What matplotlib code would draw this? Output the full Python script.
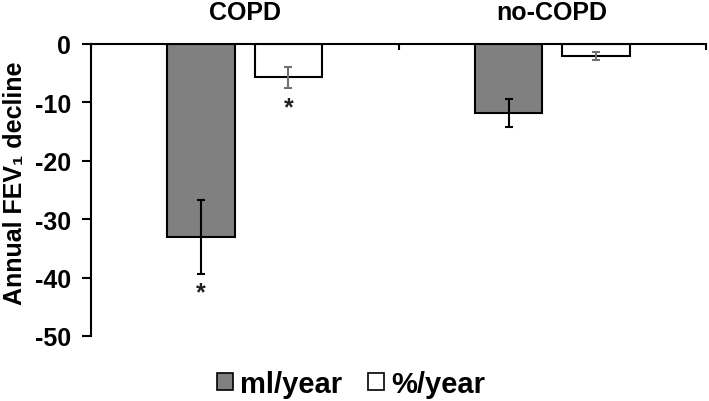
import numpy as np
import matplotlib.pyplot as plt
from matplotlib.patches import Patch

plt.rcParams['font.family'] = ['Liberation Sans', 'DejaVu Sans']
plt.rcParams['font.weight'] = 'bold'
plt.rcParams['axes.labelweight'] = 'bold'
plt.rcParams['axes.unicode_minus'] = False

# ===== data =====
groups = ['COPD', 'no-COPD']
ml_year = [-33.0, -11.8]
ml_err = [6.3, 2.4]
pct_year = [-5.7, -2.1]
pct_err = [1.8, 0.7]
# asterisk positions (y value) for significant bars
ml_star = [-42.5, None]
pct_star = [-10.8, None]

x = np.arange(len(groups))
w = 0.22
off = 0.142

fig = plt.figure(figsize=(7.09, 4.02), dpi=100)
ax = fig.add_axes([91/709, 1 - 337/402, (706 - 91)/709, (337 - 45)/402])

ax.bar(x - off, ml_year, w, color='#808080', edgecolor='black', linewidth=1.5,
       yerr=ml_err, error_kw=dict(ecolor='black', elinewidth=1.5, capsize=3, capthick=1.5))
ax.bar(x + off, pct_year, w, color='white', edgecolor='black', linewidth=1.5,
       yerr=pct_err, error_kw=dict(ecolor='#707070', elinewidth=1.5, capsize=3, capthick=1.5))

for i in range(len(groups)):
    if ml_star[i] is not None:
        ax.text(x[i] - off, ml_star[i], '*', ha='center', va='center', fontsize=18, color='#222222')
    if pct_star[i] is not None:
        ax.text(x[i] + off, pct_star[i], '*', ha='center', va='center', fontsize=18, color='#222222')
    ax.text(x[i], 1 + 32/292, groups[i], transform=ax.get_xaxis_transform(),
            ha='center', va='center', fontsize=18)

ax.set_xlim(-0.5, 1.5)
ax.set_ylim(-50, 0)
ax.set_yticks(np.arange(-50, 1, 10))
ax.set_xticks([-0.5, 0.5, 1.5])
ax.set_xticklabels([])
ax.xaxis.set_ticks_position('top')
ax.tick_params(axis='x', direction='in', length=4.5, width=1.5)
ax.tick_params(axis='y', direction='out', length=6.5, width=1.5, labelsize=18, pad=8)
ax.spines['bottom'].set_visible(False)
ax.spines['right'].set_visible(False)
ax.spines['top'].set_linewidth(1.5)
ax.spines['left'].set_linewidth(1.5)
ax.set_ylabel('Annual FEV\u2081 decline', fontsize=18, fontweight='bold')
ax.yaxis.set_label_coords(-0.104, 0.527)

handles = [Patch(facecolor='#808080', edgecolor='black', linewidth=1.2, label='ml/year'),
           Patch(facecolor='white', edgecolor='black', linewidth=1.2, label='%/year')]
fig.legend(handles=handles, loc='center', bbox_to_anchor=(351/709, 1 - 385/402), ncol=2,
           frameon=False, fontsize=21, handlelength=0.55, handleheight=0.55,
           handletextpad=0.25, columnspacing=0.86)

fig.savefig('out.png', dpi=100)
